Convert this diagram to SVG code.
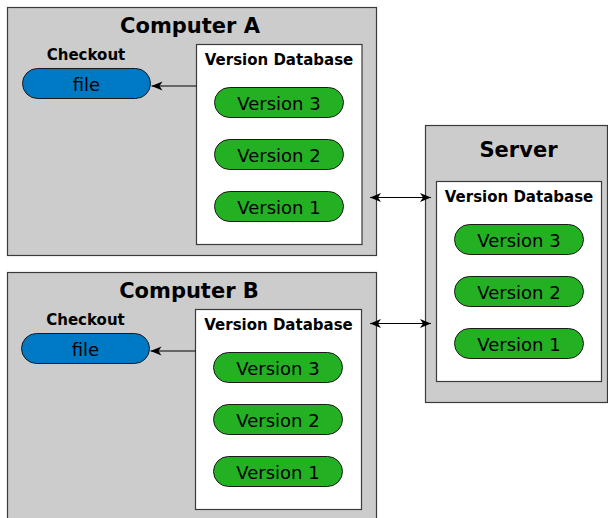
<svg xmlns="http://www.w3.org/2000/svg" width="608" height="518" viewBox="0 0 608 518">
<style>
.box{fill:#cccccc;stroke:#3a3a3a;stroke-width:1.2}
.db{fill:#ffffff;stroke:#3a3a3a;stroke-width:1.2}
.ver{fill:#23b023;stroke:#1a1a1a;stroke-width:1}
.file{fill:#0079c5;stroke:#1a1a1a;stroke-width:1}
.title{font-family:"DejaVu Sans",sans-serif;font-weight:bold;font-size:21px;text-anchor:middle;fill:#000}
.lbl{font-family:"DejaVu Sans",sans-serif;font-weight:bold;font-size:15px;text-anchor:middle;fill:#000}
.pt{font-family:"DejaVu Sans",sans-serif;font-size:18px;text-anchor:middle;fill:#000}
.con{stroke:#000;stroke-width:1.2;fill:none}
</style>
<defs>
<marker id="ah" markerUnits="userSpaceOnUse" viewBox="-12 -6 13 12" refX="0" refY="0" markerWidth="13" markerHeight="12" orient="auto-start-reverse">
<path d="M0,0 L-11,-4.5 L-8,0 L-11,4.5 Z" fill="#000"/>
</marker>
</defs>
<g id="computerA">
<rect class="box" x="7.5" y="7.5" width="369" height="248"/>
<text class="title" x="190" y="33">Computer A</text>
<text class="lbl" x="86" y="60">Checkout</text>
<g id="fileA"><rect class="file" x="22.5" y="68.5" width="128" height="30" rx="15"/><text class="pt" x="86.5" y="90.5">file</text></g>
<g id="dbA">
<rect class="db" x="196.5" y="44.5" width="165.5" height="200"/>
<text class="lbl" x="279" y="65">Version Database</text>
<rect class="ver" x="214.5" y="87.5" width="129" height="30" rx="15"/><text class="pt" x="279" y="110">Version 3</text>
<rect class="ver" x="214.5" y="139.5" width="129" height="30" rx="15"/><text class="pt" x="279" y="162">Version 2</text>
<rect class="ver" x="214.5" y="191.5" width="129" height="30" rx="15"/><text class="pt" x="279" y="214">Version 1</text>
</g>
</g>
<g id="computerB">
<rect class="box" x="7.5" y="272.5" width="369" height="260"/>
<text class="title" x="189" y="298">Computer B</text>
<text class="lbl" x="85.5" y="325">Checkout</text>
<g id="fileB"><rect class="file" x="21.5" y="333.5" width="128" height="30" rx="15"/><text class="pt" x="85.5" y="355.5">file</text></g>
<g id="dbB">
<rect class="db" x="195.5" y="309.5" width="166" height="200"/>
<text class="lbl" x="278.5" y="330">Version Database</text>
<rect class="ver" x="213.5" y="352.5" width="129" height="30" rx="15"/><text class="pt" x="278" y="375">Version 3</text>
<rect class="ver" x="213.5" y="404.5" width="129" height="30" rx="15"/><text class="pt" x="278" y="427">Version 2</text>
<rect class="ver" x="213.5" y="456.5" width="129" height="30" rx="15"/><text class="pt" x="278" y="479">Version 1</text>
</g>
</g>
<g id="server">
<rect class="box" x="425.5" y="125.5" width="182" height="277"/>
<text class="title" x="518.5" y="157">Server</text>
<g id="dbS">
<rect class="db" x="436.5" y="181.5" width="165" height="200"/>
<text class="lbl" x="519" y="202">Version Database</text>
<rect class="ver" x="454.5" y="224.5" width="129" height="30" rx="15"/><text class="pt" x="519" y="247">Version 3</text>
<rect class="ver" x="454.5" y="276.5" width="129" height="30" rx="15"/><text class="pt" x="519" y="299">Version 2</text>
<rect class="ver" x="454.5" y="328.5" width="129" height="30" rx="15"/><text class="pt" x="519" y="351">Version 1</text>
</g>
</g>
<g id="connectors">
<line class="con" x1="196.5" y1="86" x2="151.5" y2="86" marker-end="url(#ah)"/>
<line class="con" x1="195.5" y1="351" x2="150.5" y2="351" marker-end="url(#ah)"/>
<line class="con" x1="370" y1="197.5" x2="431" y2="197.5" marker-start="url(#ah)" marker-end="url(#ah)"/>
<line class="con" x1="370" y1="323.5" x2="431" y2="323.5" marker-start="url(#ah)" marker-end="url(#ah)"/>
</g>
</svg>
